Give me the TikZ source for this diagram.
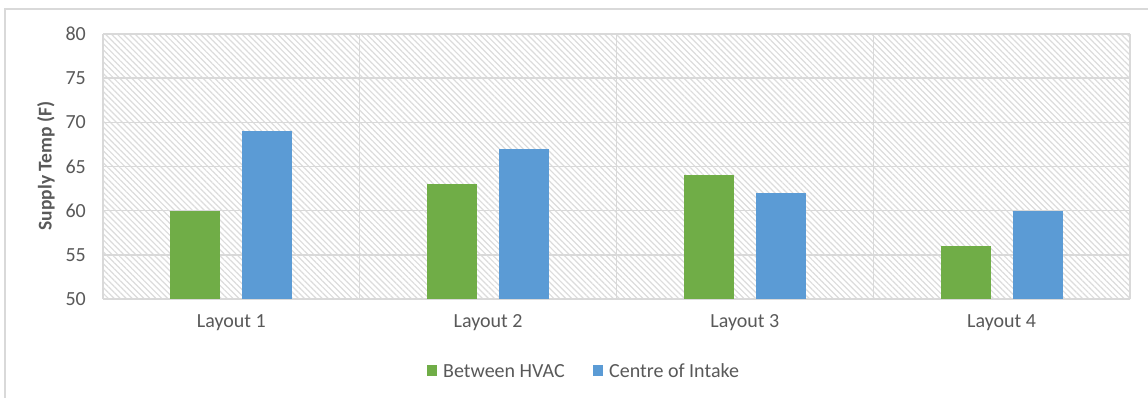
\documentclass[tikz,border=0pt]{standalone}
\usepackage{fontspec}
\setmainfont{Carlito}
\usetikzlibrary{patterns.meta}
\definecolor{txt}{RGB}{89,89,89}
\definecolor{grid}{RGB}{217,217,217}
\definecolor{hatch}{RGB}{220,220,220}
\definecolor{gbar}{RGB}{112,173,71}
\definecolor{bbar}{RGB}{91,155,213}
\tikzset{
  lbl/.style={font=\fontsize{20}{24}\selectfont, text=txt, inner sep=0pt},
  ticklbl/.style={lbl, anchor=east},
  gridline/.style={draw=grid, line width=1.4pt},
  greenbar/.style={fill=gbar},
  bluebar/.style={fill=bbar},
}
\begin{document}
\begin{tikzpicture}[x=1pt,y=-1pt]
\useasboundingbox (0,0) rectangle (1148,398);
\fill[white] (0,0) rectangle (1148,398);
% outer frame
\draw[grid, line width=1.4pt] (5,9) rectangle (1152,402);
% plot area with hatch
\fill[pattern={Lines[angle=-45,distance=4.2pt,line width=1.2pt]}, pattern color=hatch] (103,34) rectangle (1130,299);
% horizontal grid lines and tick labels
\foreach \v [count=\i from 0] in {50,55,60,65,70,75,80} {
  \pgfmathsetmacro{\yy}{299-\i*44.1667}
  \draw[gridline] (103,\yy) -- (1130,\yy);
  \node[ticklbl] (t\v) at (86,\yy) {\v};
}
% vertical category separators
\foreach \k in {0,1,2,3,4} {
  \pgfmathsetmacro{\xx}{103+\k*256.75}
  \draw[gridline] (\xx,34) -- (\xx,299);
}
% bars
\foreach \k/\g/\b in {0/60/69,1/63/67,2/64/62,3/56/60} {
  \pgfmathsetmacro{\cx}{231.4+\k*256.75}
  \pgfmathsetmacro{\gy}{299-(\g-50)*8.8333}
  \pgfmathsetmacro{\by}{299-(\b-50)*8.8333}
  \fill[greenbar] (\cx-61,299) rectangle (\cx-11,\gy);
  \fill[bluebar] (\cx+11,299) rectangle (\cx+61,\by);
}
% category labels
\node[lbl] (c1) at (231.4,323) {Layout 1};
\node[lbl] (c2) at (488.15,323) {Layout 2};
\node[lbl] (c3) at (744.9,323) {Layout 3};
\node[lbl] (c4) at (1001.65,323) {Layout 4};
% axis title
\node[lbl, font=\fontsize{19.5}{23}\selectfont\bfseries, rotate=90] (ytitle) at (46,166) {Supply Temp (F)};
% legend
\fill[greenbar] (427,365) rectangle (437,376);
\node[lbl, anchor=west] (lg) at (443,371) {Between HVAC};
\fill[bluebar] (593,365) rectangle (603,376);
\node[lbl, anchor=west] (lb) at (609,371) {Centre of Intake};
\end{tikzpicture}
\end{document}
